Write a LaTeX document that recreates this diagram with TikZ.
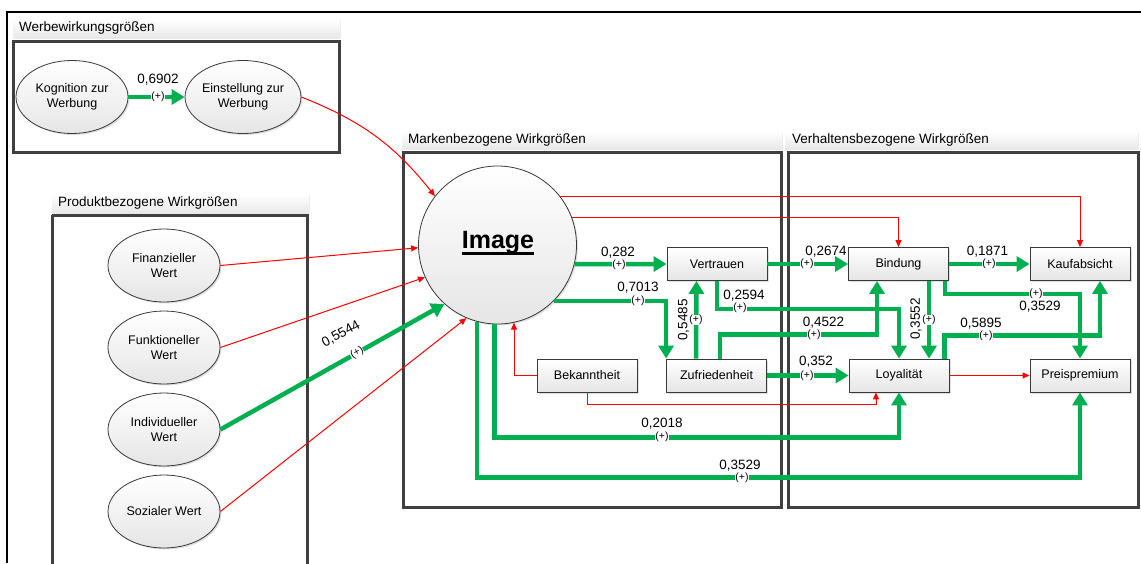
\documentclass[tikz,border=0pt]{standalone}
\usepackage{fontspec}
\setmainfont{Liberation Sans}
\usetikzlibrary{arrows.meta,shapes.geometric,shadows,calc}
\definecolor{grn}{RGB}{0,176,80}
\definecolor{frm}{RGB}{64,64,64}
\definecolor{hdrc}{RGB}{232,232,232}
\begin{document}
\begin{tikzpicture}[x=1pt,y=-1pt,
  nf/.style={font=\fontsize{12.5}{14.5}\selectfont},
  hf/.style={font=\fontsize{13.5}{15}\selectfont, inner sep=0pt, anchor=west},
  vl/.style={font=\fontsize{13.5}{14}\selectfont, inner sep=0pt},
  pl/.style={font=\fontsize{10.5}{10.5}\selectfont, fill=white, inner sep=0.4pt},
  shd/.style={drop shadow={opacity=0.25, shadow xshift=1.5pt, shadow yshift=-1.5pt}},
  ell/.style={ellipse, draw=gray!45!black, line width=0.8pt, top color=white, bottom color=gray!20,
    minimum width=112pt, minimum height=73pt, inner sep=0pt, align=center, nf, shd},
  box/.style={rectangle, draw=gray!45!black, line width=0.8pt, top color=white, bottom color=gray!20,
    minimum width=100pt, minimum height=33pt, inner sep=0pt, nf, shd},
  grp/.style={draw=frm, line width=3pt},
  hdrbar/.style={top color=white, bottom color=hdrc, drop shadow={opacity=0.15, shadow xshift=1pt, shadow yshift=-1pt}},
  gar/.style={grn, line width=4.5pt, -{Triangle[length=13pt,width=15pt]}},
  rar/.style={red, line width=1pt, -{Triangle[length=7pt,width=6pt]}}]
\useasboundingbox (0,0) rectangle (1141,563);
% outer frame
\draw[line width=2pt] (7,563) -- (7,12) -- (1141,12);
% header bars
\path[hdrbar] (13,19) rectangle (340,38);
\path[hdrbar] (52,194) rectangle (309,213);
\path[hdrbar] (402,132) rectangle (782,149);
\path[hdrbar] (785,132) rectangle (1138,149);
\node[hf] (h1) at (19,28.5) {Werbewirkungsgrößen};
\node[hf] (h2) at (58,203.5) {Produktbezogene Wirkgrößen};
\node[hf] (h3) at (408,140.5) {Markenbezogene Wirkgrößen};
\node[hf] (h4) at (792,140.5) {Verhaltensbezogene Wirkgrößen};
% group boxes
\draw[grp] (13,41) rectangle (339,152);
\draw[grp] (52,215) -- (52,570) (52,215) -- (307,215) -- (307,570);
\draw[grp] (403,152) rectangle (781,507);
\draw[grp] (788,152) rectangle (1138,507);
% ellipses
\node[ell] (kog) at (72,97) {Kognition zur\\Werbung};
\node[ell] (ein) at (243,97) {Einstellung zur\\Werbung};
\node[ell] (fin) at (164,265.5) {Finanzieller\\Wert};
\node[ell] (fun) at (164,347.5) {Funktioneller\\Wert};
\node[ell] (ind) at (164,429.5) {Individueller\\Wert};
\node[ell] (soz) at (164,511.5) {Sozialer Wert};
% image
\node[circle, draw=gray!45!black, line width=0.8pt, top color=white, bottom color=gray!20,
  minimum size=158pt, inner sep=0pt, shd] (img) at (497.5,245) {};
\node[font=\fontsize{25}{28}\selectfont\bfseries, inner sep=0pt] (imgt) at (498,243) {Image};
\draw[line width=2.2pt] ([yshift=-4.5pt]imgt.base west) -- ([yshift=-4.5pt]imgt.base east);
% boxes
\node[box] (vert) at (717,264) {Vertrauen};
\node[box] (bek) at (587,375.5) {Bekanntheit};
\node[box] (zuf) at (716.5,375.5) {Zufriedenheit};
\node[box] (bind) at (898.5,264) {Bindung};
\node[box] (kauf) at (1080,264) {Kaufabsicht};
\node[box] (loy) at (899,375.5) {Loyalität};
\node[box] (prei) at (1080,375.5) {Preispremium};
% red connectors
\draw[rar] (ein.east) to[bend left=15] (img.142);
\draw[rar] (fin.east) -- (img.182);
\draw[rar] (fun.east) -- (img.204);
\draw[rar] (soz.east) -- (img.247);
\draw[rar] (img.38.3) -| (kauf.north);
\draw[rar] (img.20.75) -| (bind.north);
\draw[rar] (bek.west) -| (img.-78);
\draw[rar] (bek.south) -- ++(0,12) -| ([xshift=-23pt]loy.south);
\draw[rar] (loy.east) -- (prei.west);
% green connectors
\draw[gar] (kog.east) -- (ein.west);
\draw[gar] (ind.east) -- (img.228);
\draw[gar] (img.-14) -- (vert.west);
\draw[gar] (img.-45) -| (zuf.north west);
\draw[gar] ([xshift=-20.5pt]zuf.north) -- ([xshift=-20.5pt]vert.south);
\draw[gar] (vert.east) -- (bind.west);
\draw[gar] (vert.south) -- ++(0,28) -| (loy.north);
\draw[gar] ([xshift=3.5pt]zuf.north) -- ++(0,-24) -| ([xshift=-21.5pt]bind.south);
\draw[gar] (zuf.east) -- (loy.west);
\draw[gar] (bind.east) -- (kauf.west);
\draw[gar] ([xshift=30.5pt]bind.south) -- ([xshift=30.5pt]bind.south |- loy.north);
\draw[gar] ([xshift=-4pt]bind.south east) -- ++(0,13) -| (prei.north);
\draw[gar] ([xshift=-5pt]loy.north east) -- ++(0,-23) -| ([xshift=20pt]kauf.south);
\draw[gar] (img.-92.5) -- ++(0,113) -| (loy.south);
\draw[gar] (img.-105) -- ++(0,156) -| (prei.south);
% labels
\node[vl] (l1) at (158,80) {0,6902};
\node[pl] (p1) at (158,97) {(+)};
\node[vl, rotate=29] (l2) at (341,334) {0,5544};
\node[pl, rotate=29] (p2) at (357,353) {(+)};
\node[vl] (l3) at (618,253) {0,282};
\node[pl] (p3) at (619,265) {(+)};
\node[vl] (l4) at (638,287.5) {0,7013};
\node[pl] (p4) at (638,301) {(+)};
\node[vl, rotate=90] (l5) at (683.5,320) {0,5485};
\node[pl] (p5) at (696,320) {(+)};
\node[vl] (l6) at (826,252) {0,2674};
\node[pl] (p6) at (807,264) {(+)};
\node[vl] (l7) at (744,296) {0,2594};
\node[pl] (p7) at (740,308) {(+)};
\node[vl] (l8) at (823.5,323) {0,4522};
\node[pl] (p8) at (814,335) {(+)};
\node[vl] (l9) at (816,362) {0,352};
\node[pl] (p9) at (807,375.5) {(+)};
\node[vl] (l10) at (987.5,251.5) {0,1871};
\node[pl] (p10) at (989,264) {(+)};
\node[vl, rotate=90] (l11) at (916,319) {0,3552};
\node[pl] (p11) at (929,320) {(+)};
\node[pl] (p12) at (1036,294) {(+)};
\node[vl] (l12) at (1040,306.5) {0,3529};
\node[vl] (l13) at (981,323.5) {0,5895};
\node[pl] (p13) at (986,336) {(+)};
\node[vl] (l14) at (662,424) {0,2018};
\node[pl] (p14) at (662,437) {(+)};
\node[vl] (l15) at (740,465.5) {0,3529};
\node[pl] (p15) at (742,477.5) {(+)};
\end{tikzpicture}
\end{document}
